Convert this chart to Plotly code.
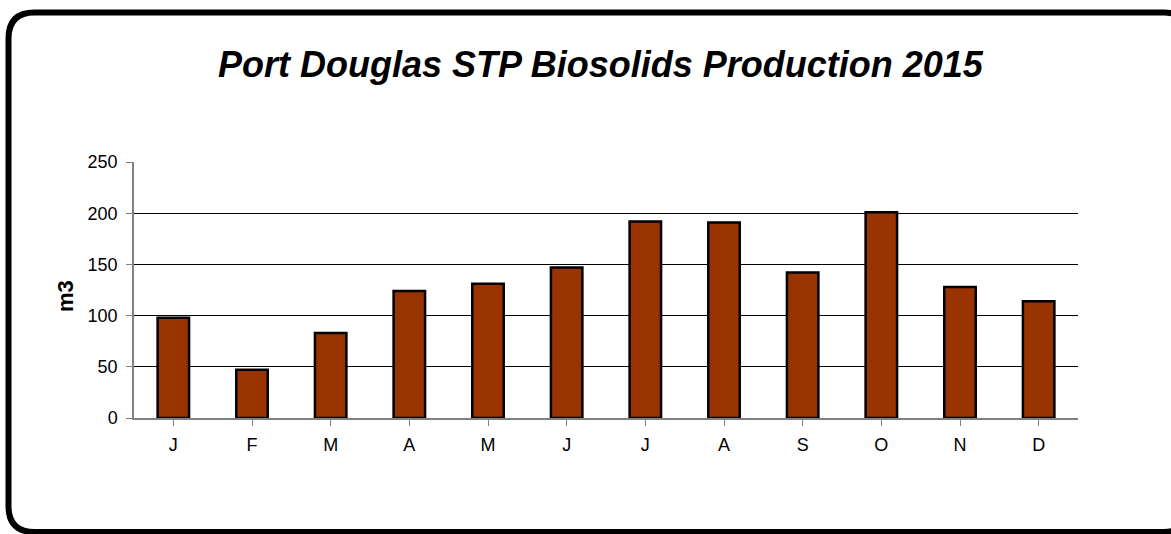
import plotly.graph_objects as go

months = ["J", "F", "M", "A", "M", "J", "J", "A", "S", "O", "N", "D"]
production_m3 = [98, 47, 83, 124, 131, 147, 192, 191, 142, 201, 128, 114]
y_ticks = [0, 50, 100, 150, 200, 250]

W, H = 1171, 534
L, R, T, B = 134, 1078, 162, 418

x_idx = list(range(len(months)))

fig = go.Figure()
fig.add_trace(go.Bar(
    x=x_idx, y=production_m3,
    marker=dict(color="#993300", line=dict(color="black", width=2.5)),
    width=0.4,
))

def px_x(p):
    return (p - L) / (R - L)

def px_y(p):
    return (B - p) / (B - T)

# rounded frame (pixels -> paper)
x0, x1, y0, y1, r = 8.5, 1190, 12.5, 532, 26
path = (
    f"M {px_x(x0+r)},{px_y(y0)} L {px_x(x1-r)},{px_y(y0)} "
    f"Q {px_x(x1)},{px_y(y0)} {px_x(x1)},{px_y(y0+r)} "
    f"L {px_x(x1)},{px_y(y1-r)} Q {px_x(x1)},{px_y(y1)} {px_x(x1-r)},{px_y(y1)} "
    f"L {px_x(x0+r)},{px_y(y1)} Q {px_x(x0)},{px_y(y1)} {px_x(x0)},{px_y(y1-r)} "
    f"L {px_x(x0)},{px_y(y0+r)} Q {px_x(x0)},{px_y(y0)} {px_x(x0+r)},{px_y(y0)} Z"
)

fig.update_layout(
    width=W, height=H,
    margin=dict(l=L, r=W - R, t=T, b=H - B, autoexpand=False),
    paper_bgcolor="white", plot_bgcolor="white",
    showlegend=False,
    font=dict(family="Liberation Sans, Arial, sans-serif", color="black", size=18),
    shapes=[dict(type="path", xref="paper", yref="paper", path=path,
                 line=dict(color="black", width=6), layer="above")],
    annotations=[
        dict(text="<b><i>Port Douglas STP Biosolids Production 2015</i></b>",
             x=px_x(601), y=px_y(64), xref="paper", yref="paper",
             showarrow=False, font=dict(size=36, family="Liberation Sans, Arial, sans-serif"),
             xanchor="center", yanchor="middle"),
        dict(text="<b>m3</b>", x=px_x(65), y=px_y(296), xref="paper", yref="paper",
             showarrow=False, textangle=-90, font=dict(size=22),
             xanchor="center", yanchor="middle"),
    ],
)

fig.update_xaxes(
    tickvals=x_idx, ticktext=months, range=[-0.5, 11.5],
    showline=True, linecolor="#808080", linewidth=1.5,
    ticks="outside", tickson="boundaries", ticklen=6, tickcolor="#808080",
    ticklabelstandoff=4,
    showgrid=False, zeroline=False, tickfont=dict(size=18),
)
fig.update_yaxes(
    range=[0, 250], tickvals=y_ticks,
    showline=True, linecolor="#808080", linewidth=1.5,
    ticks="outside", ticklen=6, tickcolor="#808080",
    ticklabelstandoff=5,
    showgrid=True, gridcolor="black", gridwidth=1, zeroline=False,
    tickfont=dict(size=18),
)

fig.write_html("out.html", config={"displayModeBar": False},
               post_script="document.body.style.margin='0px';")
